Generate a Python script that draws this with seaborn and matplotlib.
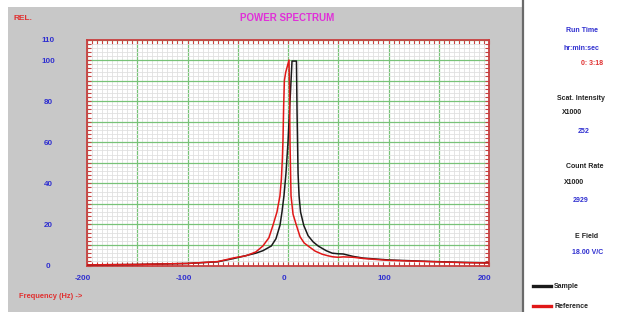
import numpy as np
import pandas as pd
import matplotlib
matplotlib.use("Agg")
import matplotlib.pyplot as plt
from matplotlib.patches import Rectangle
from matplotlib.lines import Line2D
from matplotlib import font_manager
from matplotlib.transforms import ScaledTranslation
import seaborn as sns

# ---- data ----
freq_sample = [-200, -150, -100, -70, -55, -42, -32, -25, -16.6, -12, -8, -6, -4, -2, 0, 2, 4,
               8.4, 9, 10, 11, 12.5, 15.7, 20, 25, 30, 38, 44, 50, 55, 65, 75, 100, 140, 175, 200]
value_sample = [0.3, 0.5, 1.0, 1.8, 3.3, 4.8, 6.0, 7.2, 9.5, 13, 19.5, 26, 34, 45, 60, 80, 99.5,
                99.5, 75, 45, 34, 26, 19.5, 14.5, 11.5, 9.5, 7.2, 6.0, 5.7, 5.6, 4.4, 3.6, 2.7,
                2.0, 1.5, 1.3]

freq_reference = [-200, -150, -100, -70, -53, -42, -32, -25, -19, -15, -11, -8, -6.6, -5.6, -5,
                  -4.3, -3.6, -2.3, 1, 1.5, 2, 3, 5, 8.4, 12, 16, 20, 27, 34, 40, 45, 50,
                  55, 65, 75, 100, 140, 175, 200]
value_reference = [0.3, 0.5, 1.0, 1.9, 3.8, 4.7, 6.6, 9.5, 13.5, 19.5, 26, 34, 42, 52, 61,
                   78, 90, 94, 100, 85, 60, 34, 25, 19.5, 14, 11, 9.5, 7.0, 5.5, 4.7, 4.2, 4.0,
                   4.2, 4.0, 3.4, 2.5, 1.9, 1.4, 1.2]

series_names = ["Sample", "Reference"]
x_tick_labels = ["-200", "-100", "0", "100", "200"]
y_tick_labels = ["0", "20", "40", "60", "80", "100", "110"]

panel_labels = [("Run Time", "blue"), ("hr:min:sec", "blue"), ("0: 3:18", "red"),
                ("Scat. Intensity", "black"), ("X1000", "black"), ("252", "blue"),
                ("Count Rate", "black"), ("X1000", "black"), ("2929", "blue"),
                ("E Field", "black"), ("18.00 V/C", "blue")]

# ---- fonts ----
available = {f.name for f in font_manager.fontManager.ttflist}
REG = "Liberation Sans" if "Liberation Sans" in available else "DejaVu Sans"

# ---- build the frame ----
df = pd.concat([
    pd.DataFrame({"freq": freq_sample, "value": value_sample, "series": series_names[0]}),
    pd.DataFrame({"freq": freq_reference, "value": value_reference, "series": series_names[1]}),
], ignore_index=True)

W, H = 625, 312
fig = plt.figure(figsize=(W / 100, H / 100), dpi=100)
fig.patch.set_facecolor("white")

def fx(px):
    return px / W

def fy(py):
    return 1 - py / H

# grey panel and separator (behind the axes)
fig.patches.append(Rectangle((fx(8), 0), fx(522) - fx(8), fy(7), transform=fig.transFigure,
                             facecolor="#c8c8c8", edgecolor="none", zorder=-5))
fig.lines.append(Line2D([fx(522.5), fx(522.5)], [0, 1], transform=fig.transFigure,
                        color="#6a6a6a", lw=1.6, zorder=-4))

ax = fig.add_axes([fx(87), fy(265.5), fx(489) - fx(87), fy(39.5) - fy(265.5)])
ax.set_zorder(1)
ax.set_facecolor("white")

palette = {"Sample": "#1a1a1a", "Reference": "#e01818"}
sns.lineplot(data=df, x="freq", y="value", hue="series", palette=palette,
             estimator=None, sort=False, lw=1.1, ax=ax, legend=True, zorder=5)

ax.set_xlim(-200, 200)
ax.set_ylim(0, 110)

blue = "#2f2fd0"
ax.set_xticks(np.arange(-200, 201, 50))
ax.set_xticklabels([lab if lab in x_tick_labels else "" for lab in
                    [str(v) for v in np.arange(-200, 201, 50)]])
ax.set_yticks(np.arange(0, 111, 10))
ax.set_yticklabels([lab if lab in y_tick_labels else "" for lab in
                    [str(v) for v in np.arange(0, 111, 10)]])
ax.set_xticks(np.arange(-200, 201, 5), minor=True)
ax.set_yticks(np.arange(0, 111, 2), minor=True)

ax.grid(which="minor", color="#e0e0e0", lw=0.6, zorder=0)
ax.grid(which="major", color="#78c278", lw=0.9, zorder=1)
ax.set_axisbelow(True)

ax.tick_params(which="both", direction="in", color="#c84040", length=3, width=0.8,
               top=True, right=True, bottom=True, left=True)
ax.tick_params(axis="x", which="major", pad=7, labelsize=5.8, labelcolor=blue)
ax.tick_params(axis="y", which="major", pad=28, labelsize=5.8, labelcolor=blue)
shift = ScaledTranslation(-4 / 100, 0, fig.dpi_scale_trans)
for lab in ax.get_xticklabels():
    lab.set_fontweight("bold")
    lab.set_fontfamily(REG)
    lab.set_transform(lab.get_transform() + shift)
for lab in ax.get_yticklabels():
    lab.set_fontweight("bold")
    lab.set_fontfamily(REG)
    lab.set_horizontalalignment("center")

for sp in ax.spines.values():
    sp.set_color("#c84040")
    sp.set_linewidth(1.3)

ax.set_xlabel("")
ax.set_ylabel("")

# legend in the right panel
handles, labels = ax.get_legend_handles_labels()
ax.legend_.remove()
leg = fig.legend(handles, labels, loc="upper left",
                 bbox_to_anchor=(fx(527), fy(277)),
                 frameon=False, prop={"family": REG, "weight": "bold", "size": 5},
                 handlelength=2.6, handletextpad=0.4, labelspacing=1.9)
for line in leg.get_lines():
    line.set_linewidth(2.4)
for t in leg.get_texts():
    t.set_color("#222222")

# header and axis texts
fig.text(fx(13), fy(18), "REL.", color="#e03030", fontsize=6, fontweight="bold",
         family=REG, ha="left", va="center")
fig.text(fx(287), fy(18), "POWER SPECTRUM", color="#e030d8", fontsize=7, fontweight="bold",
         family=REG, ha="center", va="center")
fig.text(fx(19), fy(296), "Frequency (Hz) ->", color="#e03030", fontsize=5.4, fontweight="bold",
         family=REG, ha="left", va="center")

# right panel
color_map = {"blue": blue, "red": "#e03030", "black": "#222222"}
positions = [(582, 31), (581, 48), (592, 63.5), (581, 99), (572, 113), (584, 131),
             (585, 166.5), (574, 182.5), (581, 200), (587, 236.5), (588, 253)]
for (txt, c), (px, py) in zip(panel_labels, positions):
    fig.text(fx(px), fy(py), txt, color=color_map[c], fontsize=5.0, fontweight="bold",
             family=REG, ha="center", va="center")

fig.savefig("out.png", dpi=100)
